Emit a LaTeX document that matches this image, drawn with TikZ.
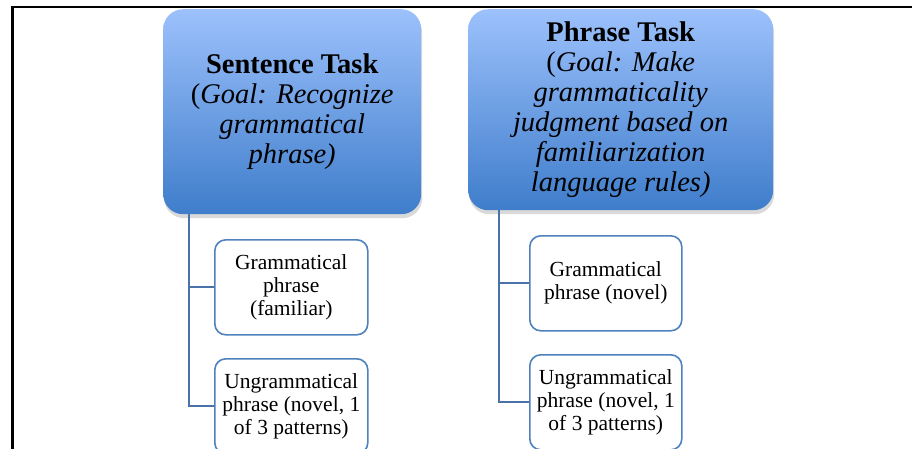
\documentclass[tikz,border=0pt]{standalone}
\usepackage{fontspec}
\setmainfont{Liberation Serif}
\usetikzlibrary{shadows}
\definecolor{tasktop}{HTML}{9CC1FC}
\definecolor{taskbottom}{HTML}{3F7DCB}
\definecolor{itemblue}{HTML}{4F81BD}
\definecolor{linkblue}{HTML}{4A72A8}

\begin{document}
\begin{tikzpicture}[
  x=1pt, y=-1pt,
  task/.style={anchor=north west, rounded corners=20pt, top color=tasktop, bottom color=taskbottom, draw=none, align=center, inner sep=0pt,
    font=\fontsize{28.5}{30}\selectfont, drop shadow={shadow xshift=1pt, shadow yshift=-4pt, opacity=0.3}},
  item/.style={anchor=north west, draw=itemblue, line width=1.6pt, rounded corners=11pt, fill=white, align=center, inner sep=0pt,
    minimum height=95pt, font=\fontsize{21.5}{23}\selectfont},
  link/.style={draw=linkblue, line width=2.2pt}
]
  \useasboundingbox (0,0) rectangle (912,448);
  \clip (0,0) rectangle (912,448);
  % page frame
  \draw[line width=2.8pt] (12.5,460) -- (12.5,7) -- (930,7);

  \node[task, minimum width=258pt, minimum height=205pt] (sentence) at (163,9)
    {\textbf{Sentence Task}\\(\textit{Goal: Recognize}\\\textit{grammatical}\\\textit{phrase)}};
  \node[task, minimum width=305pt, minimum height=201pt] (phrase) at (468,9)
    {\textbf{Phrase Task}\\(\textit{Goal: Make}\\\textit{grammaticality}\\\textit{judgment based on}\\\textit{familiarization}\\\textit{language rules)}};

  \node[item, minimum width=153pt] (sgram) at (214,239) {Grammatical\\phrase\\(familiar)};
  \node[item, minimum width=153pt] (sungram) at (214,358) {Ungrammatical\\phrase (novel, 1\\of 3 patterns)};
  \node[item, minimum width=152pt] (pgram) at (529,235) {Grammatical\\phrase (novel)};
  \node[item, minimum width=152pt] (pungram) at (529,354) {Ungrammatical\\phrase (novel, 1\\of 3 patterns)};

  \draw[link] ([xshift=26pt]sentence.south west) |- (sgram.west);
  \draw[link] ([xshift=26pt]sentence.south west) |- (sungram.west);
  \draw[link] ([xshift=31pt]phrase.south west) |- (pgram.west);
  \draw[link] ([xshift=31pt]phrase.south west) |- (pungram.west);
\end{tikzpicture}
\end{document}
